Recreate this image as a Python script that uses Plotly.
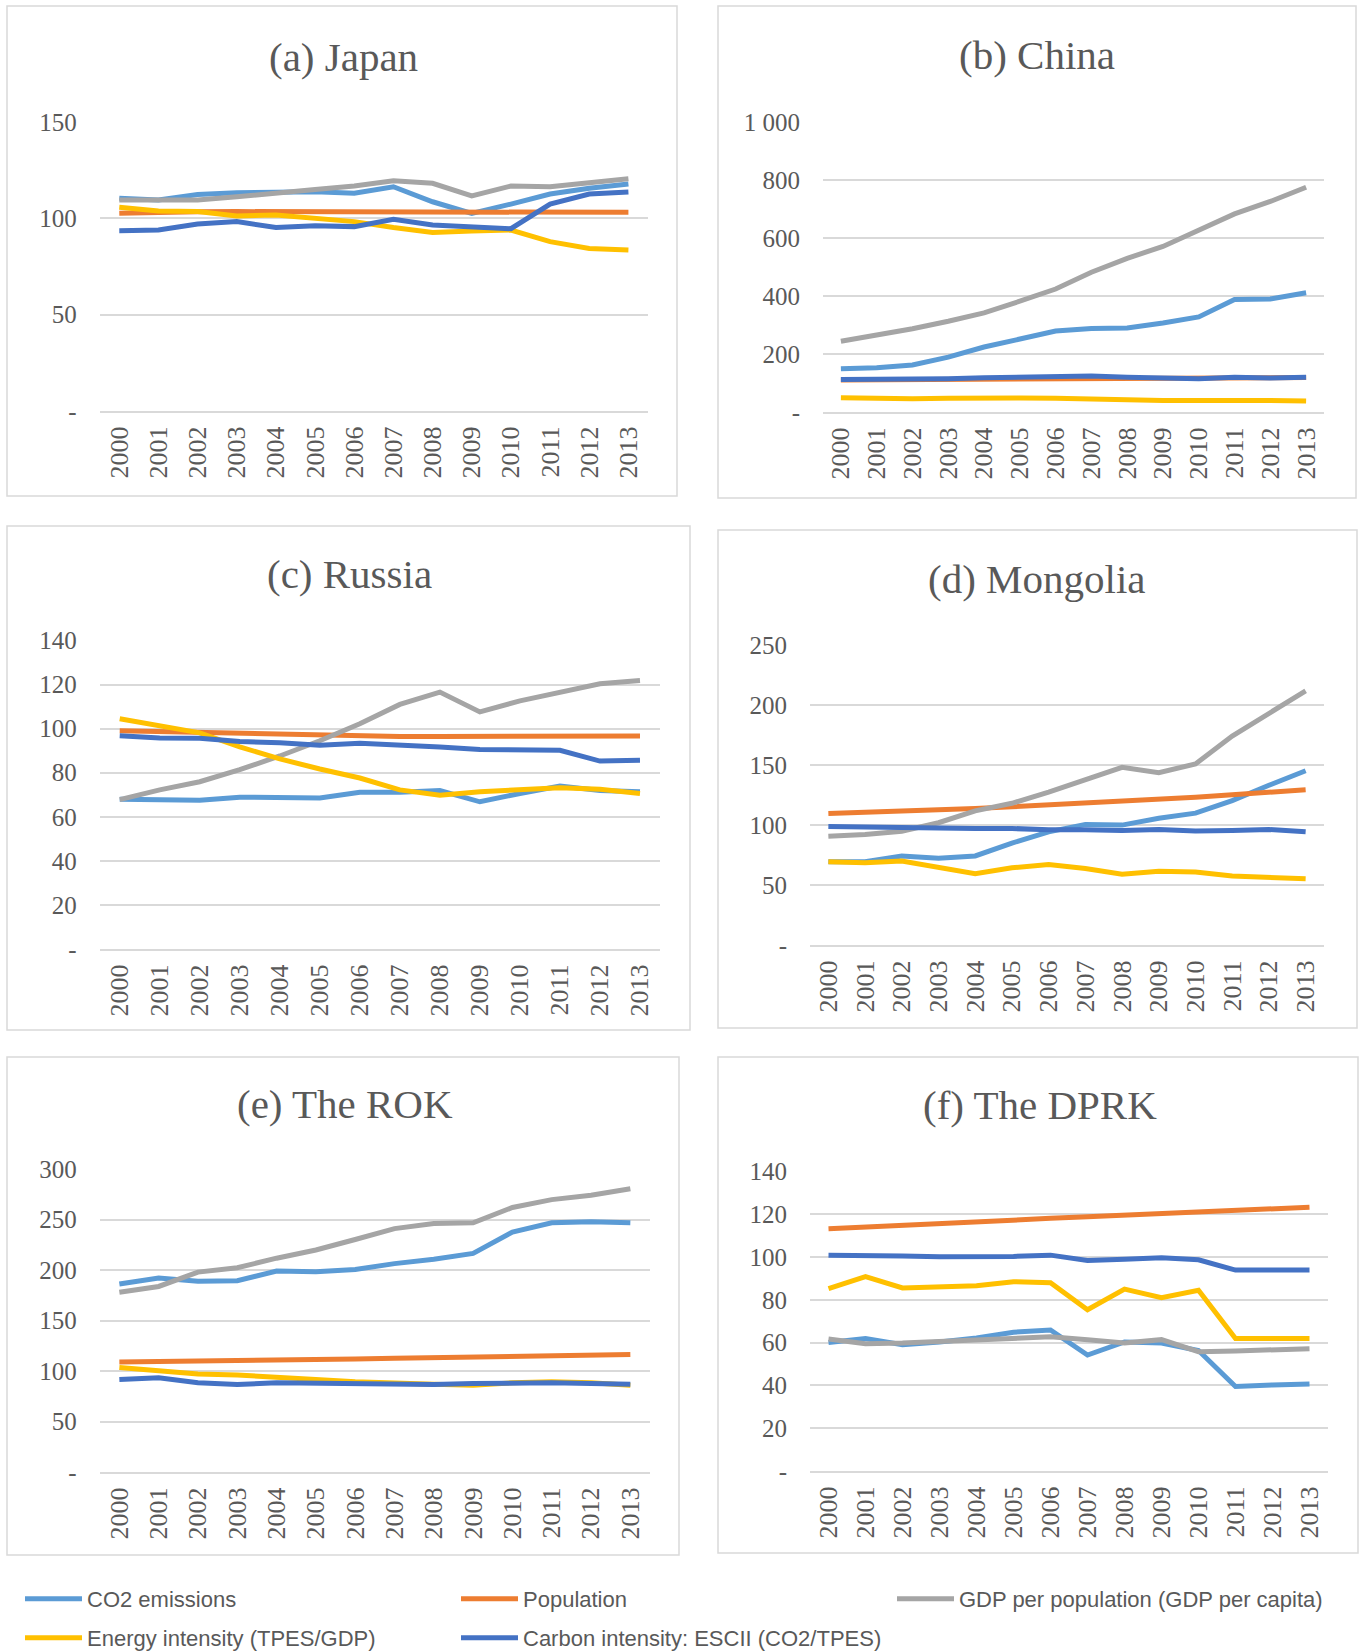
import plotly.graph_objects as go

YEARS = ["2000", "2001", "2002", "2003", "2004", "2005", "2006",
         "2007", "2008", "2009", "2010", "2011", "2012", "2013"]

SERIES = [
    "CO2 emissions",
    "Population",
    "GDP per population (GDP per capita)",
    "Energy intensity (TPES/GDP)",
    "Carbon intensity: ESCII (CO2/TPES)",
]
COLORS = ["#5B9BD5", "#ED7D31", "#A5A5A5", "#FFC000", "#4472C4"]

# (a) Japan
jp_co2 = [110.4, 109.5, 112.4, 113.3, 113.5, 113.8, 113.0, 116.4, 108.6, 102.6, 107.4, 112.6, 115.6, 117.8]
jp_pop = [102.6, 103.3, 103.4, 103.5, 103.5, 103.5, 103.5, 103.5, 103.6, 103.5, 103.5, 103.4, 103.2, 103.1]
jp_gdp = [109.5, 109.2, 109.5, 111.2, 113.3, 115.0, 116.8, 119.5, 118.2, 111.6, 116.8, 116.4, 118.5, 120.6]
jp_ei = [105.7, 103.8, 103.5, 101.2, 101.7, 100.0, 98.3, 95.2, 92.7, 93.4, 93.9, 87.9, 84.4, 83.6]
jp_ci = [93.6, 93.9, 97.0, 98.3, 95.3, 96.2, 95.7, 99.5, 96.5, 95.7, 94.6, 107.4, 112.6, 113.7]
jp_ticks = [0, 50, 100, 150]

# (b) China
cn_co2 = [149, 153, 162, 189, 224, 252, 279, 288, 290, 307, 328, 388, 390, 411]
cn_pop = [110, 111, 112, 112, 113, 114, 114, 115, 116, 116, 117, 118, 118, 119]
cn_gdp = [244, 264, 287, 313, 342, 382, 424, 482, 530, 571, 628, 683, 726, 775]
cn_ei = [49, 46, 46, 47, 49, 48, 47, 44, 40, 40, 40, 41, 40, 38]
cn_ci = [112, 112, 113, 115, 118, 121, 124, 124, 120, 118, 115, 120, 117, 120]
cn_ticks = [0, 200, 400, 600, 800, 1000]

# (c) Russia
ru_co2 = [68.0, 68.0, 67.5, 68.9, 68.8, 68.5, 71.1, 71.1, 71.9, 66.8, 70.6, 74.0, 71.9, 71.4]
ru_pop = [99.1, 98.7, 98.1, 97.9, 97.4, 96.8, 96.4, 96.4, 96.4, 96.4, 96.4, 96.7, 96.7, 96.7]
ru_gdp = [67.8, 72.2, 75.9, 81.4, 87.6, 94.5, 102.2, 111.0, 116.6, 107.6, 112.6, 116.6, 120.4, 121.8]
ru_ei = [104.5, 101.5, 98.1, 91.7, 86.3, 81.7, 77.6, 72.2, 69.8, 71.4, 72.5, 73.2, 72.5, 70.6]
ru_ci = [96.8, 95.8, 95.6, 94.2, 93.6, 92.5, 93.4, 92.7, 91.7, 90.5, 90.2, 90.2, 85.3, 85.7]
ru_ticks = [0, 20, 40, 60, 80, 100, 120, 140]

# (d) Mongolia
mn_co2 = [69.4, 69.4, 74.2, 72.2, 74.2, 84.9, 94.3, 100.5, 99.9, 105.6, 109.9, 120.3, 133.1, 145.2]
mn_pop = [109.6, 110.5, 111.4, 112.5, 113.8, 115.2, 116.6, 118.2, 119.8, 121.5, 123.2, 125.2, 127.2, 129.4]
mn_gdp = [90.6, 92.0, 94.8, 101.9, 111.8, 118.1, 127.4, 138.2, 148.1, 143.5, 150.9, 174.1, 192.5, 211.8]
mn_ei = [69.4, 68.5, 69.9, 64.3, 59.5, 64.3, 67.1, 63.7, 58.9, 61.4, 60.9, 57.5, 56.1, 55.2]
mn_ci = [98.8, 98.2, 97.7, 97.4, 97.1, 97.1, 96.0, 96.0, 95.4, 96.3, 95.1, 95.4, 96.3, 94.3]
mn_ticks = [0, 50, 100, 150, 200, 250]

# (e) The ROK
kr_co2 = [186.1, 192.1, 188.8, 189.4, 198.9, 198.2, 200.6, 206.3, 210.7, 216.4, 237.6, 246.7, 247.8, 246.7]
kr_pop = [108.9, 109.6, 110.1, 110.6, 111.0, 111.4, 111.9, 112.5, 113.1, 113.6, 114.2, 114.9, 115.6, 116.3]
kr_gdp = [178.0, 183.7, 197.9, 202.2, 211.7, 219.8, 230.2, 241.0, 246.1, 246.7, 261.9, 269.7, 274.0, 280.4]
kr_ei = [103.5, 100.4, 97.1, 96.1, 94.4, 91.7, 89.3, 87.6, 87.0, 86.0, 88.3, 89.3, 88.3, 86.0]
kr_ci = [91.7, 93.4, 88.3, 86.6, 88.3, 87.6, 87.6, 86.6, 86.6, 87.6, 88.3, 88.3, 87.6, 87.0]
kr_ticks = [0, 50, 100, 150, 200, 250, 300]

# (f) The DPRK
kp_co2 = [60.1, 61.9, 59.0, 60.3, 62.2, 64.9, 65.9, 54.2, 60.3, 59.8, 56.3, 39.5, 40.2, 40.7]
kp_pop = [113.2, 114.1, 115.0, 115.8, 116.6, 117.4, 118.1, 118.8, 119.5, 120.3, 121.0, 121.8, 122.5, 123.3]
kp_gdp = [61.7, 59.5, 59.8, 60.6, 61.1, 61.7, 62.7, 61.4, 59.8, 61.4, 55.8, 56.1, 56.6, 57.2]
kp_ei = [85.3, 90.9, 85.6, 86.1, 86.6, 88.5, 88.0, 75.4, 85.0, 81.0, 84.5, 61.9, 61.9, 61.9]
kp_ci = [100.9, 100.9, 100.5, 100.1, 100.0, 100.3, 100.9, 98.4, 99.0, 99.7, 98.7, 93.9, 93.9, 93.9]
kp_ticks = [0, 20, 40, 60, 80, 100, 120, 140]

W, H = 1359, 1652
TEXT = "#595959"
GRID = "#D9D9D9"
SERIF = "Liberation Serif, DejaVu Serif, serif"
SANS = "Liberation Sans, Arial, sans-serif"

# pixel boxes: plot area (x0, x1, y0, y1), frame (x0, x1, y0, y1), title centre (x, y)
PANELS = [
    ("(a) Japan", [jp_co2, jp_pop, jp_gdp, jp_ei, jp_ci], jp_ticks,
     (99.7, 648, 122, 411), (7, 677, 6, 496), (344, 57)),
    ("(b) China", [cn_co2, cn_pop, cn_gdp, cn_ei, cn_ci], cn_ticks,
     (823, 1324, 122, 412), (718, 1356, 6, 498), (1037, 55)),
    ("(c) Russia", [ru_co2, ru_pop, ru_gdp, ru_ei, ru_ci], ru_ticks,
     (99.7, 660, 640.5, 949), (7, 690, 526, 1030), (349, 574)),
    ("(d) Mongolia", [mn_co2, mn_pop, mn_gdp, mn_ei, mn_ci], mn_ticks,
     (810, 1324, 645, 945), (718, 1357, 530, 1028), (1037, 579)),
    ("(e) The ROK", [kr_co2, kr_pop, kr_gdp, kr_ei, kr_ci], kr_ticks,
     (99.7, 650, 1169, 1472), (7, 679, 1057, 1555), (345, 1104)),
    ("(f) The DPRK", [kp_co2, kp_pop, kp_gdp, kp_ei, kp_ci], kp_ticks,
     (810, 1328, 1171.5, 1471), (718, 1358, 1057, 1553), (1040, 1105)),
]


def tick_label(v):
    return "-" if v == 0 else f"{v:,}".replace(",", " ")


fig = go.Figure()
layout = {}
shapes = []
annotations = []

for i, (title, series, ticks, plot, frame, tpos) in enumerate(PANELS):
    n = "" if i == 0 else str(i + 1)
    for j, values in enumerate(series):
        fig.add_trace(go.Scatter(
            x=YEARS, y=values, mode="lines", name=SERIES[j],
            line=dict(color=COLORS[j], width=5),
            xaxis="x" + n, yaxis="y" + n,
            showlegend=(i == 0),
            legend="legend" if j < 3 else "legend2",
        ))
    px0, px1, py0, py1 = plot
    layout["xaxis" + n] = dict(
        domain=[px0 / W, px1 / W], anchor="y" + n, type="category",
        range=[-0.5, 13.5], tickangle=-90, showgrid=False, zeroline=False,
        showline=True, linecolor=GRID, linewidth=2, ticks="",
        ticklabelstandoff=3, automargin=False,
        tickfont=dict(family=SERIF, size=26, color=TEXT),
    )
    layout["yaxis" + n] = dict(
        domain=[1 - py1 / H, 1 - py0 / H], anchor="x" + n,
        range=[0, ticks[-1]], tickvals=ticks,
        ticktext=[tick_label(v) for v in ticks],
        showgrid=True, gridcolor=GRID, gridwidth=1.6, zeroline=False,
        showline=False, ticks="", ticklabelstandoff=22, automargin=False,
        tickfont=dict(family=SERIF, size=25, color=TEXT),
    )
    fx0, fx1, fy0, fy1 = frame
    shapes.append(dict(
        type="rect", xref="paper", yref="paper",
        x0=fx0 / W, x1=fx1 / W, y0=1 - fy1 / H, y1=1 - fy0 / H,
        line=dict(color=GRID, width=1.5), fillcolor="rgba(0,0,0,0)", layer="below",
    ))
    annotations.append(dict(
        text=title, xref="paper", yref="paper",
        x=tpos[0] / W, y=1 - tpos[1] / H, xanchor="center", yanchor="middle",
        showarrow=False, font=dict(family=SERIF, size=41, color=TEXT),
    ))

legend_style = dict(
    orientation="h", xanchor="left", yanchor="middle",
    entrywidth=364, entrywidthmode="pixels", itemwidth=57,
    font=dict(family=SANS, size=22, color=TEXT),
    bgcolor="rgba(0,0,0,0)", traceorder="normal",
)

fig.update_layout(
    width=W, height=H,
    margin=dict(l=0, r=0, t=0, b=0, autoexpand=False),
    paper_bgcolor="white", plot_bgcolor="white",
    shapes=shapes, annotations=annotations,
    legend=dict(x=20 / W, y=1 - 1599 / H, **legend_style),
    legend2=dict(x=20 / W, y=1 - 1638 / H, **legend_style),
    **layout,
)

fig.write_html(
    "out.html",
    config={"displayModeBar": False},
    post_script="document.body.style.margin = '0';",
)
